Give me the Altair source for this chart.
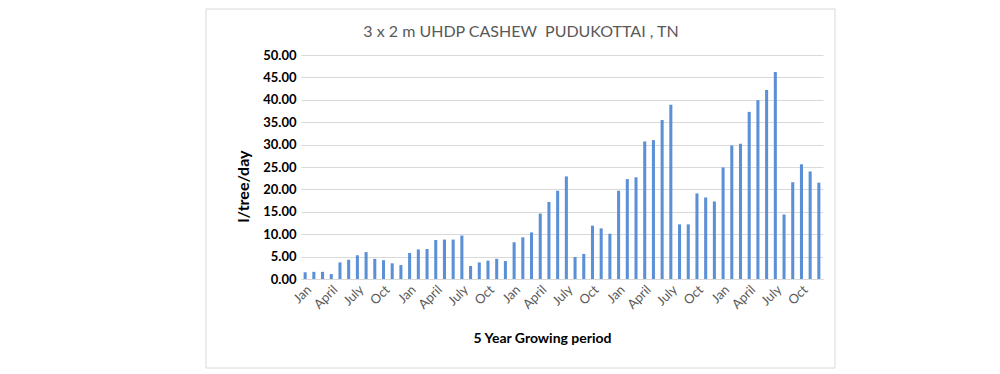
import altair as alt
import pandas as pd

values = [
    1.5, 1.6, 1.6, 1.1, 3.7, 4.3, 5.3, 6.0, 4.5, 4.2, 3.5, 3.1,
    5.8, 6.6, 6.7, 8.7, 8.8, 8.8, 9.7, 2.9, 3.7, 4.1, 4.5, 4.0,
    8.2, 9.3, 10.4, 14.6, 17.2, 19.7, 22.9, 4.9, 5.6, 11.9, 11.3, 10.1,
    19.7, 22.3, 22.7, 30.7, 31.0, 35.5, 38.9, 12.2, 12.2, 19.1, 18.2, 17.3,
    24.9, 29.8, 30.2, 37.3, 39.9, 42.2, 46.2, 14.4, 21.6, 25.6, 24.0, 21.5,
]
months = ["Jan", "Feb", "Mar", "April", "May", "June",
          "July", "Aug", "Sep", "Oct", "Nov", "Dec"]
shown_months = ["Jan", "April", "July", "Oct"]
y_ticks = [0, 5, 10, 15, 20, 25, 30, 35, 40, 45, 50]

df = pd.DataFrame({
    "idx": list(range(len(values))),
    "month": [months[i % 12] for i in range(len(values))],
    "value": values,
})

label_expr = (
    "datum.value % 3 == 0 ? " + str(shown_months) +
    "[floor((datum.value % 12) / 3)] : ''"
)

bars = alt.Chart(df).mark_bar(color="#5B8FD6").encode(
    x=alt.X(
        "idx:O",
        scale=alt.Scale(paddingInner=0.65, paddingOuter=0.3),
        axis=alt.Axis(
            title="5 Year Growing period",
            labelExpr=label_expr,
            labelAngle=-45,
            labelFontSize=13,
            labelColor="#595959",
            labelFont="Lato",
            labelPadding=4,
            labelOverlap=False,
            ticks=False,
            domainColor="#d9d9d9",
            titleFont="Lato",
            titleFontSize=14,
            titleFontWeight="bold",
            titleColor="#000000",
            titleX=241,
            titleY=59,
            titleBaseline="middle",
        ),
    ),
    y=alt.Y(
        "value:Q",
        scale=alt.Scale(domain=[0, 50], nice=False),
        axis=alt.Axis(
            title="l/tree/day",
            values=y_ticks,
            format=".2f",
            labelFont="Lato",
            labelFontSize=13,
            labelFontWeight="bold",
            labelColor="#000000",
            labelPadding=5,
            ticks=False,
            domain=False,
            gridColor="#d9d9d9",
            titleFont="Lato",
            titleFontSize=16,
            titleFontWeight="bold",
            titleColor="#000000",
            titleX=-58,
            titleY=131,
            titleBaseline="middle",
            titleAngle=-90,
        ),
    ),
)

frame = alt.Chart(pd.DataFrame({"a": [0]})).mark_rect(
    filled=False, stroke="#d9d9d9", strokeWidth=1
).encode(
    x=alt.value(-95), x2=alt.value(534),
    y=alt.value(-46), y2=alt.value(313),
)

chart = alt.layer(frame, bars).properties(
    width=522,
    height=224,
    title=alt.TitleParams(
        "3 x 2 m UHDP CASHEW \u00a0PUDUKOTTAI , TN",
        font="Lato",
        fontSize=16,
        fontWeight="normal",
        color="#595959",
        dx=-41,
        offset=-31,
    ),
    padding={"left": 197, "top": 0, "right": 5, "bottom": 0},
    background="white",
).configure_view(stroke=None)

chart.save("out.html", embed_options={"renderer": "svg", "actions": False})
